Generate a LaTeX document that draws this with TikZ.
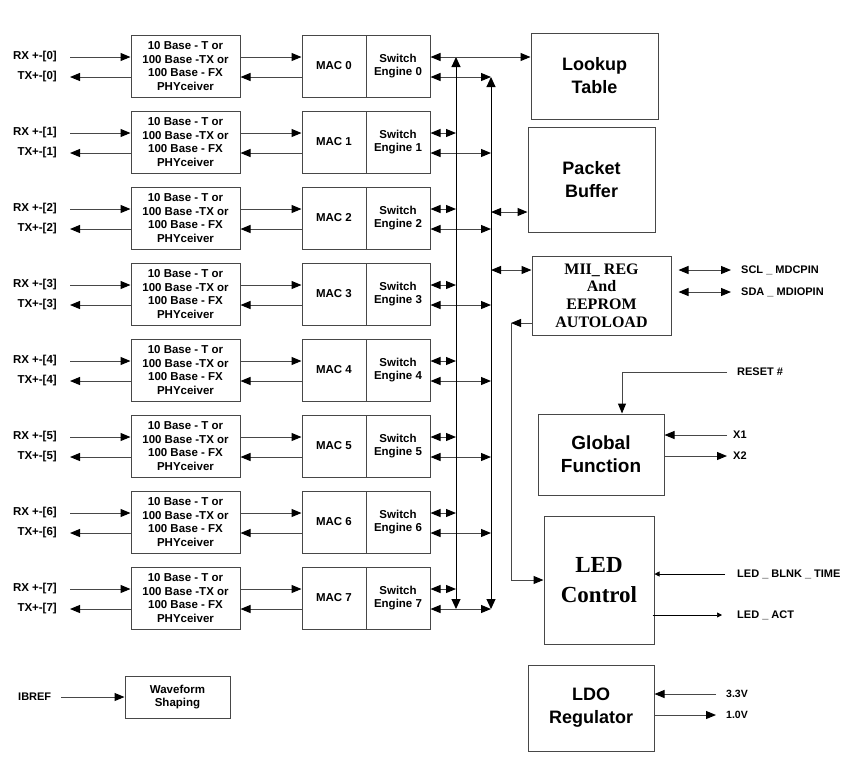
\documentclass[tikz,border=0pt]{standalone}
\usepackage{fontspec}
\setmainfont{Liberation Sans}
\newfontfamily\timesfont{Liberation Serif}
\usepackage{tikz}
\usetikzlibrary{arrows.meta,calc}
\usepackage{xcolor}
\definecolor{wire}{HTML}{474747}

\begin{document}
\begin{tikzpicture}[
    x=1pt, y=-1pt,
    phybox/.style={draw=wire, line width=1pt, minimum width=109pt, minimum height=62pt, inner sep=0pt, align=center, font=\fontsize{11.5}{13.8}\selectfont\bfseries},
    blkbox/.style={draw=wire, line width=1pt, minimum width=64pt, minimum height=62pt, inner sep=0pt, align=center, font=\fontsize{11.5}{13}\selectfont\bfseries},
    bigbox/.style={draw=wire, line width=1pt, inner sep=0pt, align=center, font=\fontsize{18}{23}\selectfont\bfseries},
    serifbox/.style={draw=wire, line width=1pt, inner sep=0pt, align=center, font=\timesfont\bfseries},
    pinlabel/.style={inner sep=0pt, font=\fontsize{11}{13}\selectfont\bfseries},
    arr/.style={draw=wire, line width=1pt, -{Triangle[length=10pt,width=8pt,color=black]}},
    dbl/.style={draw=wire, line width=1pt, {Triangle[length=10pt,width=8pt,color=black]}-{Triangle[length=10pt,width=8pt,color=black]}},
    thinarr/.style={draw=black, line width=0.7pt, -{Triangle[length=5pt,width=5pt]}},
    bus/.style={draw=black, line width=1pt, {Triangle[length=10pt,width=9pt]}-{Triangle[length=10pt,width=9pt]}}
]
    \useasboundingbox (0,0) rectangle (850,761);

    % Otto porte: PHY, MAC, motore di commutazione
    \foreach \i [evaluate=\i as \yc using int(66+76*\i)] in {0,...,7} {
        \node[phybox] (phy\i) at (185.5,\yc) {10 Base - T or\\100 Base -TX or\\100 Base - FX\\PHYceiver};
        \node[blkbox] (mac\i) at (334,\yc) {MAC \i};
        \node[blkbox] (se\i) at (398,\yc) {Switch\\Engine \i};

        \node[pinlabel, anchor=east, font=\fontsize{11.5}{13}\selectfont\bfseries] (rx\i) at (57,\yc-9) {RX +-[\i]};
        \node[pinlabel, anchor=east, font=\fontsize{11.5}{13}\selectfont\bfseries] (tx\i) at (57,\yc+11) {TX+-[\i]};

        \draw[arr] ([xshift=13pt]rx\i.east) -- ([yshift=9pt]phy\i.west);
        \draw[arr] ([yshift=-11pt]phy\i.west) -- ([xshift=13pt]tx\i.east);
        \draw[arr] ([yshift=9pt]phy\i.east) -- ([yshift=9pt]mac\i.west);
        \draw[arr] ([yshift=-11pt]mac\i.west) -- ([yshift=-11pt]phy\i.east);

        \coordinate (ba\i) at (456,\yc-9);
        \coordinate (bb\i) at (491,\yc+11);
        \draw[dbl] ([yshift=-11pt]se\i.east) -- (bb\i);
    }

    % Collegamenti brevi verso il bus A
    \foreach \i in {1,...,7} {
        \draw[dbl] ([yshift=9pt]se\i.east) -- (ba\i);
    }

    % Bus verticali
    \coordinate (busAtop) at (456,57);
    \coordinate (busAbot) at (456,609);
    \coordinate (busBtop) at (491,77);
    \coordinate (busBbot) at (491,609);
    \draw[bus] (busAtop) -- (busAbot);
    \draw[bus] (busBtop) -- (busBbot);

    % Blocchi a destra
    \node[bigbox, minimum width=127pt, minimum height=86pt] (lookup) at (594.5,76) {Lookup\\Table};
    \node[bigbox, minimum width=127pt, minimum height=105pt] (pbuf) at (591.5,179.5) {Packet\\Buffer};
    \node[serifbox, minimum width=139pt, minimum height=79pt, font=\timesfont\bfseries\fontsize{16}{17.6}\selectfont] (mii) at (601.5,295.5) {MII\_ REG\\And\\EEPROM\\AUTOLOAD};
    \node[bigbox, minimum width=126pt, minimum height=81pt, font=\fontsize{19}{23}\selectfont\bfseries] (glob) at (601,454.5) {Global\\Function};
    \node[serifbox, minimum width=110pt, minimum height=128pt, font=\timesfont\bfseries\fontsize{23}{30}\selectfont] (led) at (599,580) {LED\\Control};
    \node[bigbox, minimum width=126pt, minimum height=86pt] (ldo) at (591,708) {LDO\\Regulator};
    \node[blkbox, minimum width=105pt, minimum height=42pt, font=\fontsize{11.5}{13}\selectfont\bfseries] (wave) at (177.5,697) {Waveform\\Shaping};

    % Connessioni al bus
    \draw[dbl] ([yshift=9pt]se0.east) -- ([yshift=9pt]se0.east -| lookup.west);
    \coordinate (tapPB) at (491,212);
    \coordinate (tapMII) at (491,270);
    \draw[dbl] (tapPB) -- (tapPB -| pbuf.west);
    \draw[dbl] (tapMII) -- (tapMII -| mii.west);

    % MII -> LED
    \coordinate (miiturn) at (511,323);
    \draw[arr] (miiturn -| mii.west) -- (miiturn);
    \draw[arr] (miiturn) |- (led.west);

    % Segnali esterni
    \node[pinlabel, anchor=west] (scl) at (741,270) {SCL \_ MDCPIN};
    \node[pinlabel, anchor=west] (sda) at (741,292) {SDA \_ MDIOPIN};
    \draw[dbl] ([xshift=7pt]scl.west -| mii.east) -- ([xshift=-10pt]scl.west);
    \draw[dbl] ([xshift=7pt]sda.west -| mii.east) -- ([xshift=-10pt]sda.west);

    \node[pinlabel, anchor=west] (reset) at (737,372) {RESET \#};
    \draw[arr] ([xshift=-10pt]reset.west) -| ([xshift=21pt]glob.north);
    \node[pinlabel, anchor=west] (xa) at (733,435) {X1};
    \node[pinlabel, anchor=west] (xb) at (733,456) {X2};
    \draw[arr] ([xshift=-6pt]xa.west) -- (xa.west -| glob.east);
    \draw[arr] (xb.west -| glob.east) -- ([xshift=-6pt]xb.west);

    \node[pinlabel, anchor=west] (blnk) at (737,574) {LED \_ BLNK \_ TIME};
    \node[pinlabel, anchor=west] (act) at (737,615) {LED \_ ACT};
    \draw[thinarr] ([xshift=-12pt]blnk.west) -- (blnk.west -| led.east);
    \draw[thinarr] ([xshift=-2pt]act.west -| led.east) -- ([xshift=-15pt]act.west);

    \node[pinlabel, anchor=west, font=\fontsize{10.5}{13}\selectfont\bfseries] (vin) at (726,694) {3.3V};
    \node[pinlabel, anchor=west, font=\fontsize{10.5}{13}\selectfont\bfseries] (vout) at (726,715) {1.0V};
    \draw[arr] ([xshift=-10pt]vin.west) -- (vin.west -| ldo.east);
    \draw[arr] (vout.west -| ldo.east) -- ([xshift=-10pt]vout.west);

    \node[pinlabel, anchor=west] (ibref) at (18,697) {IBREF};
    \draw[arr] ([xshift=10pt]ibref.east) -- (wave.west);

\end{tikzpicture}
\end{document}
